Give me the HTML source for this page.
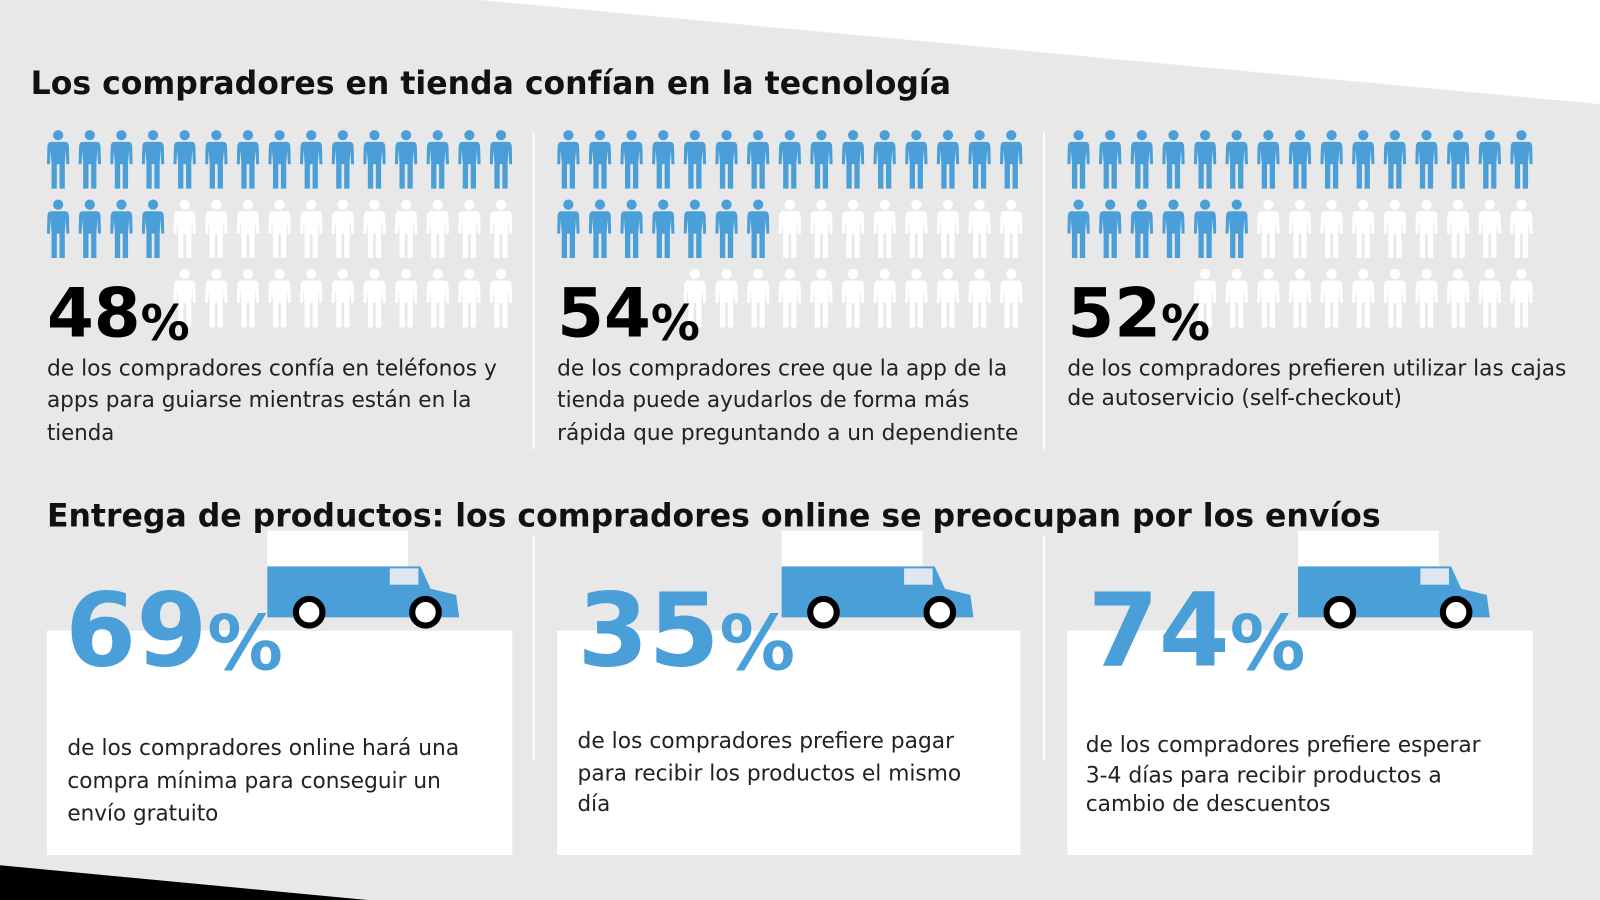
<!DOCTYPE html>
<html><head><meta charset="utf-8"><style>
html,body{margin:0;padding:0;background:#e8e8e8;}
svg{display:block;}
text{font-family:"DejaVu Sans","Liberation Sans",sans-serif;}
</style></head><body>
<svg width="1600" height="900" viewBox="0 0 1568 882" preserveAspectRatio="none" xmlns="http://www.w3.org/2000/svg" xmlns:xlink="http://www.w3.org/1999/xlink">
<defs>
<symbol id="p" viewBox="0 0 22 58">
<circle cx="11" cy="5.5" r="5"/>
<path d="M4,12 H18 Q21,12 21.5,16 L22,34 H19 L18.5,20 L17.5,33 V58 H12.3 V34 H9.7 V58 H4.5 V33 L3.5,20 L3,34 H0 L0.5,16 Q1,12 4,12 Z"/>
</symbol>
<g id="c1"><use href="#p" xlink:href="#p" width="22" height="58"/></g>
<g id="c2"><use href="#c1" xlink:href="#c1"/><use href="#c1" xlink:href="#c1" x="31"/></g>
<g id="c4"><use href="#c2" xlink:href="#c2"/><use href="#c2" xlink:href="#c2" x="62"/></g>
<g id="c8"><use href="#c4" xlink:href="#c4"/><use href="#c4" xlink:href="#c4" x="124"/></g>
<g id="c15"><use href="#c8" xlink:href="#c8"/><use href="#c4" xlink:href="#c4" x="248"/><use href="#c2" xlink:href="#c2" x="372"/><use href="#c1" xlink:href="#c1" x="434"/></g>
<g id="c11"><use href="#c8" xlink:href="#c8"/><use href="#c2" xlink:href="#c2" x="248"/><use href="#c1" xlink:href="#c1" x="310"/></g>
<g id="c9"><use href="#c8" xlink:href="#c8"/><use href="#c1" xlink:href="#c1" x="248"/></g>
<g id="c7"><use href="#c4" xlink:href="#c4"/><use href="#c2" xlink:href="#c2" x="124"/><use href="#c1" xlink:href="#c1" x="186"/></g>
<g id="c6"><use href="#c4" xlink:href="#c4"/><use href="#c2" xlink:href="#c2" x="124"/></g>
<g id="truck">
<rect x="0" y="-35" width="138" height="36" fill="#fff"/>
<path d="M0,0 H150 L160,22 L185,28 L188,50 H0 Z" fill="#4a9fd8"/>
<rect x="120" y="2" width="28" height="16" fill="#dfe8ee"/>
<circle cx="41" cy="45" r="13" fill="#fff" stroke="#000" stroke-width="6"/>
<circle cx="155" cy="45" r="13" fill="#fff" stroke="#000" stroke-width="6"/>
</g>
</defs>
<rect width="1568" height="882" fill="#e8e8e8"/>
<polygon points="470,0 1568,0 1568,102" fill="#fff"/>
<polygon points="0,848 360,882 0,882" fill="#000"/>
<line x1="523" y1="130" x2="523" y2="440" stroke="#fff" stroke-width="2"/>
<line x1="1023" y1="130" x2="1023" y2="440" stroke="#fff" stroke-width="2"/>
<line x1="523" y1="525" x2="523" y2="745" stroke="#fff" stroke-width="2"/>
<line x1="1023" y1="525" x2="1023" y2="745" stroke="#fff" stroke-width="2"/>

<text x="30" y="92" font-size="31" font-weight="bold" fill="#111" textLength="902" lengthAdjust="spacingAndGlyphs">Los compradores en tienda confían en la tecnología</text>

<g fill="#4a9fd8">
<use href="#c15" xlink:href="#c15" x="46" y="127"/>
<use href="#c15" xlink:href="#c15" x="546" y="127"/>
<use href="#c15" xlink:href="#c15" x="1046" y="127"/>
<use href="#c4" xlink:href="#c4" x="46" y="195"/>
<use href="#c7" xlink:href="#c7" x="546" y="195"/>
<use href="#c6" xlink:href="#c6" x="1046" y="195"/>
</g>
<g fill="#fff">
<use href="#c11" xlink:href="#c11" x="170" y="195"/>
<use href="#c8" xlink:href="#c8" x="763" y="195"/>
<use href="#c9" xlink:href="#c9" x="1232" y="195"/>
<use href="#c11" xlink:href="#c11" x="170" y="263"/>
<use href="#c11" xlink:href="#c11" x="670" y="263"/>
<use href="#c11" xlink:href="#c11" x="1170" y="263"/>
</g>

<g font-weight="bold" fill="#000">
<text x="46" y="330" font-size="66">48<tspan font-size="48" dy="3">%</tspan></text>
<text x="546" y="330" font-size="66">54<tspan font-size="48" dy="3">%</tspan></text>
<text x="1046" y="330" font-size="66">52<tspan font-size="48" dy="3">%</tspan></text>
</g>
<g font-size="22" fill="#222">
<text x="46" y="368" textLength="441" lengthAdjust="spacingAndGlyphs">de los compradores confía en teléfonos y</text>
<text x="46" y="399" textLength="416" lengthAdjust="spacingAndGlyphs">apps para guiarse mientras están en la</text>
<text x="46" y="431" textLength="66" lengthAdjust="spacingAndGlyphs">tienda</text>
<text x="546" y="368" textLength="441" lengthAdjust="spacingAndGlyphs">de los compradores cree que la app de la</text>
<text x="546" y="399" textLength="404" lengthAdjust="spacingAndGlyphs">tienda puede ayudarlos de forma más</text>
<text x="546" y="431" textLength="452" lengthAdjust="spacingAndGlyphs">rápida que preguntando a un dependiente</text>
<text x="1046" y="368" textLength="489" lengthAdjust="spacingAndGlyphs">de los compradores prefieren utilizar las cajas</text>
<text x="1046" y="397" textLength="328" lengthAdjust="spacingAndGlyphs">de autoservicio (self-checkout)</text>
</g>

<rect x="46" y="618" width="456" height="220" fill="#fff"/>
<rect x="546" y="618" width="454" height="220" fill="#fff"/>
<rect x="1046" y="618" width="456" height="220" fill="#fff"/>

<use href="#truck" xlink:href="#truck" x="262" y="555"/>
<use href="#truck" xlink:href="#truck" x="766" y="555"/>
<use href="#truck" xlink:href="#truck" x="1272" y="555"/>

<text x="46" y="516" font-size="31" font-weight="bold" fill="#111" textLength="1307" lengthAdjust="spacingAndGlyphs">Entrega de productos: los compradores online se preocupan por los envíos</text>

<g font-weight="bold" fill="#4a9fd8">
<text x="64" y="652" font-size="100">69<tspan font-size="74" dy="4">%</tspan></text>
<text x="566" y="652" font-size="100">35<tspan font-size="74" dy="4">%</tspan></text>
<text x="1066" y="652" font-size="100">74<tspan font-size="74" dy="4">%</tspan></text>
</g>
<g font-size="22" fill="#222">
<text x="66" y="740" textLength="384" lengthAdjust="spacingAndGlyphs">de los compradores online hará una</text>
<text x="66" y="772" textLength="366" lengthAdjust="spacingAndGlyphs">compra mínima para conseguir un</text>
<text x="66" y="804" textLength="148" lengthAdjust="spacingAndGlyphs">envío gratuito</text>
<text x="566" y="733" textLength="369" lengthAdjust="spacingAndGlyphs">de los compradores prefiere pagar</text>
<text x="566" y="765" textLength="376" lengthAdjust="spacingAndGlyphs">para recibir los productos el mismo</text>
<text x="566" y="795" textLength="32" lengthAdjust="spacingAndGlyphs">día</text>
<text x="1064" y="737" textLength="387" lengthAdjust="spacingAndGlyphs">de los compradores prefiere esperar</text>
<text x="1064" y="767" textLength="349" lengthAdjust="spacingAndGlyphs">3-4 días para recibir productos a</text>
<text x="1064" y="795" textLength="240" lengthAdjust="spacingAndGlyphs">cambio de descuentos</text>
</g>
</svg>
</body></html>
